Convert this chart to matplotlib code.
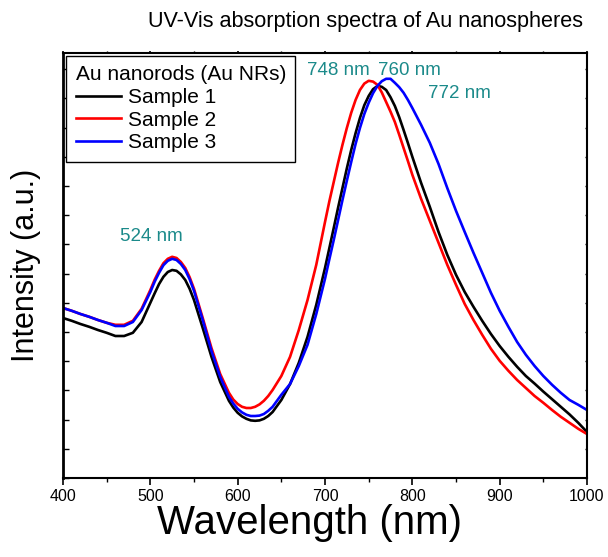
import matplotlib
matplotlib.use('Agg')
import matplotlib.pyplot as plt
from matplotlib.ticker import MultipleLocator, NullFormatter

plt.rcParams['font.family'] = ['Liberation Sans', 'DejaVu Sans']

# wavelength (nm), finer steps around the bands
wavelength = ([400, 410, 420, 430, 440, 450, 460, 470, 480, 490]
              + [500, 505, 510, 515, 520, 525, 530, 535, 540, 545]
              + [550, 560, 570, 580]
              + [590, 595, 600, 605, 610, 615, 620, 625, 630, 635]
              + [640, 650, 660, 670, 680, 690]
              + [700, 705, 710, 715, 720, 725, 730, 735, 740, 745,
                 750, 755, 760, 765, 770, 775, 780, 785, 790, 795]
              + [800, 810, 820, 830, 840, 850, 860, 870, 880, 890,
                 900, 910, 920, 930, 940, 950, 960, 970, 980, 990, 1000])

# intensity (a.u.)
sample1 = ([0.400, 0.393, 0.385, 0.378, 0.370, 0.363, 0.355, 0.355, 0.363, 0.390]
           + [0.438, 0.462, 0.485, 0.503, 0.515, 0.520, 0.518, 0.509, 0.495, 0.473]
           + [0.445, 0.375, 0.303, 0.240]
           + [0.193, 0.176, 0.163, 0.154, 0.148, 0.144, 0.143, 0.144, 0.148, 0.155]
           + [0.165, 0.195, 0.235, 0.288, 0.353, 0.433]
           + [0.525, 0.575, 0.625, 0.676, 0.725, 0.774, 0.820, 0.862, 0.900, 0.932,
              0.955, 0.972, 0.980, 0.978, 0.970, 0.952, 0.930, 0.902, 0.870, 0.837]
           + [0.803, 0.738, 0.678, 0.615, 0.558, 0.508, 0.465, 0.428, 0.393, 0.360,
              0.330, 0.303, 0.278, 0.255, 0.236, 0.216, 0.197, 0.178, 0.159, 0.138, 0.115])
sample2 = ([0.425, 0.418, 0.410, 0.403, 0.395, 0.388, 0.383, 0.383, 0.393, 0.423]
           + [0.470, 0.496, 0.518, 0.537, 0.548, 0.553, 0.550, 0.540, 0.525, 0.502]
           + [0.473, 0.400, 0.325, 0.260]
           + [0.213, 0.196, 0.185, 0.178, 0.175, 0.175, 0.178, 0.184, 0.193, 0.205]
           + [0.220, 0.255, 0.303, 0.370, 0.445, 0.533]
           + [0.640, 0.692, 0.740, 0.788, 0.833, 0.875, 0.913, 0.945, 0.970, 0.986,
              0.993, 0.991, 0.983, 0.964, 0.940, 0.916, 0.890, 0.858, 0.825, 0.792]
           + [0.758, 0.698, 0.643, 0.588, 0.533, 0.483, 0.435, 0.395, 0.358, 0.323,
              0.293, 0.268, 0.245, 0.225, 0.205, 0.188, 0.170, 0.153, 0.138, 0.123, 0.110])
sample3 = ([0.425, 0.418, 0.410, 0.403, 0.395, 0.388, 0.380, 0.380, 0.390, 0.420]
           + [0.465, 0.491, 0.513, 0.532, 0.543, 0.548, 0.545, 0.535, 0.520, 0.497]
           + [0.468, 0.395, 0.318, 0.253]
           + [0.203, 0.186, 0.173, 0.164, 0.158, 0.155, 0.155, 0.156, 0.160, 0.168]
           + [0.178, 0.208, 0.235, 0.280, 0.333, 0.410]
           + [0.498, 0.547, 0.595, 0.645, 0.695, 0.743, 0.790, 0.835, 0.875, 0.910,
              0.938, 0.962, 0.980, 0.992, 0.998, 0.998, 0.988, 0.977, 0.963, 0.945]
           + [0.925, 0.883, 0.838, 0.785, 0.725, 0.668, 0.615, 0.563, 0.513, 0.463,
              0.418, 0.378, 0.340, 0.308, 0.280, 0.255, 0.233, 0.213, 0.195, 0.183, 0.170])

series = [('Sample 1', sample1, 'black'),
          ('Sample 2', sample2, 'red'),
          ('Sample 3', sample3, 'blue')]

# peak labels: (text, x in nm, y in a.u.)
peak_labels = [('524 nm', 501, 0.603),
               ('748 nm', 715, 1.018),
               ('760 nm', 797, 1.018),
               ('772 nm', 854, 0.962)]
label_color = '#1b8a8a'

fig = plt.figure(figsize=(6.08, 5.57), dpi=100)
ax = fig.add_axes([63 / 608, 79 / 557, 524 / 608, 425 / 557])

for name, vals, col in series:
    ax.plot(wavelength, vals, color=col, lw=1.9, label=name,
            solid_joinstyle='round')

for txt, x, y in peak_labels:
    ax.text(x, y, txt, color=label_color, fontsize=13.5, ha='center', va='center')

ax.set_xlim(400, 1000)
ax.set_ylim(0, 1.0625)
ax.xaxis.set_major_locator(MultipleLocator(100))
ax.xaxis.set_minor_locator(MultipleLocator(50))
ax.yaxis.set_major_locator(MultipleLocator(0.073))
ax.yaxis.set_major_formatter(NullFormatter())
ax.tick_params(axis='x', which='major', direction='out', length=5, width=1.2,
               labelsize=11.5, pad=3)
ax.tick_params(axis='x', which='minor', direction='out', length=3, width=1.0)
ax.tick_params(axis='y', which='major', direction='in', length=4, width=1.0)
ax.tick_params(axis='both', which='both', top=True, right=True)
ax.tick_params(axis='x', which='major', labeltop=False)
for sp in ax.spines.values():
    sp.set_linewidth(1.5)
ax.spines['left'].set_linewidth(2.0)

# faint ticks on top/right
for t in ax.xaxis.get_major_ticks() + ax.xaxis.get_minor_ticks():
    t.tick2line.set_markersize(1.5)
    t.tick2line.set_color('#aaaaaa')
for t in ax.yaxis.get_major_ticks():
    t.tick2line.set_markersize(1.5)
    t.tick2line.set_color('#aaaaaa')

ax.set_xlabel('Wavelength (nm)', fontsize=29)
ax.xaxis.set_label_coords(0.471, -0.062)
ax.set_ylabel('Intensity (a.u.)', fontsize=22, labelpad=12)
fig.text(365 / 608, 1 - 22 / 557, 'UV-Vis absorption spectra of Au nanospheres',
         fontsize=15.6, ha='center', va='center')

leg = ax.legend(title='Au nanorods (Au NRs)', loc='upper left', fontsize=15,
                title_fontsize=15, frameon=True, fancybox=False,
                handlelength=2.2, handletextpad=0.3, borderpad=0.45,
                labelspacing=0.17, borderaxespad=0.15)
leg._legend_box.align = 'left'
leg.get_frame().set_edgecolor('black')
leg.get_frame().set_linewidth(1.0)
leg.get_frame().set_alpha(1)

fig.savefig('out.png', dpi=100)
